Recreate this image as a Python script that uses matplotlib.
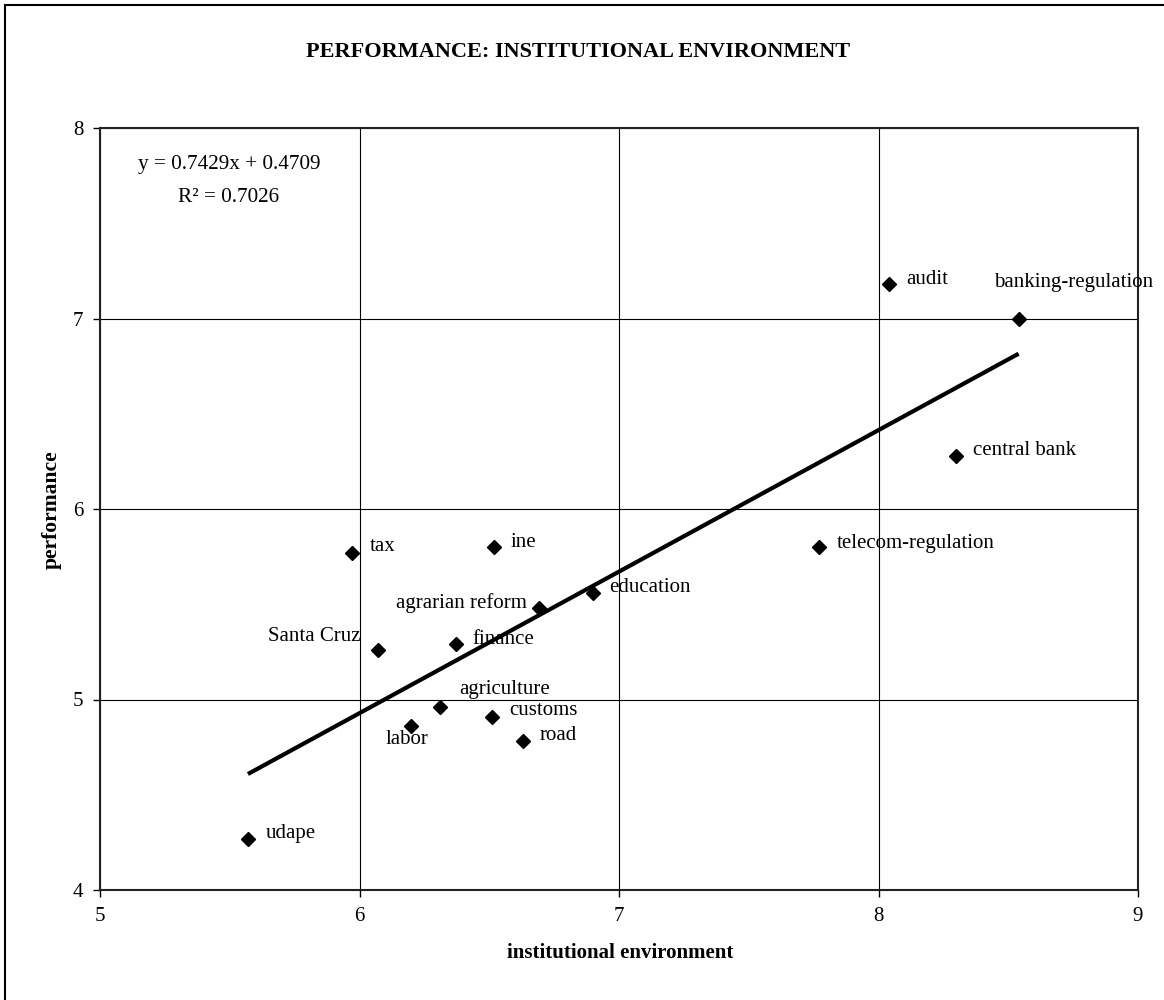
import matplotlib
matplotlib.use("Agg")
import matplotlib.pyplot as plt
from matplotlib.lines import Line2D
import numpy as np

plt.rcParams['font.family'] = ['Liberation Serif', 'DejaVu Serif']

# ---- data ----
names = ["udape", "tax", "ine", "agrarian reform", "education", "Santa Cruz",
         "finance", "agriculture", "customs", "labor", "road", "audit",
         "banking-regulation", "central bank", "telecom-regulation"]
inst_env = [5.57, 5.97, 6.52, 6.69, 6.90, 6.07, 6.37, 6.31, 6.51, 6.20, 6.63,
            8.04, 8.54, 8.30, 7.77]
performance = [4.27, 5.77, 5.80, 5.48, 5.56, 5.26, 5.29, 4.96, 4.91, 4.86, 4.78,
               7.18, 7.00, 6.28, 5.80]
trend_slope = 0.7429
trend_intercept = 0.4709
r_squared = 0.7026
x_ticks = [5, 6, 7, 8, 9]
y_ticks = [4, 5, 6, 7, 8]

# label offsets in pixels (dx, dy) and alignment
label_style = {
    "udape": (18, 5, 'left'),
    "tax": (18, 6, 'left'),
    "ine": (16, 5, 'left'),
    "agrarian reform": (-12, 5, 'right'),
    "education": (16, 5, 'left'),
    "Santa Cruz": (-17, 13, 'right'),
    "finance": (17, 5, 'left'),
    "agriculture": (19, 18, 'left'),
    "customs": (17, 6, 'left'),
    "labor": (-4, -13, 'center'),
    "road": (17, 6, 'left'),
    "audit": (17, 5, 'left'),
    "banking-regulation": (55, 36, 'center'),
    "central bank": (17, 5, 'left'),
    "telecom-regulation": (18, 4, 'left'),
}

W, H = 1164, 1000
fig = plt.figure(figsize=(W / 100, H / 100), dpi=100)

# outer border (left and top visible)
fig.add_artist(Line2D([5 / W, 5 / W], [0, 1 - 5 / H], color='black', lw=1.5,
                      transform=fig.transFigure))
fig.add_artist(Line2D([5 / W, 1], [1 - 5 / H, 1 - 5 / H], color='black', lw=1.5,
                      transform=fig.transFigure))

left, right, top, bottom = 100, 1138, 128, 890
ax = fig.add_axes([left / W, 1 - bottom / H, (right - left) / W, (bottom - top) / H])
ax.set_xlim(5, 9)
ax.set_ylim(4, 8)
ax.set_xticks(x_ticks)
ax.set_yticks(y_ticks)
ax.set_xticklabels([str(t) for t in x_ticks], fontsize=15)
ax.set_yticklabels([str(t) for t in y_ticks], fontsize=15)
ax.tick_params(direction='out', length=5, width=1, pad=7)
ax.grid(True, color='black', lw=0.8)
ax.set_axisbelow(True)
for s in ax.spines.values():
    s.set_linewidth(1.5)
    s.set_color('#222222')

# trend line
xs = np.array([min(inst_env), max(inst_env)])
ax.plot(xs, trend_slope * xs + trend_intercept, color='black', lw=3, zorder=3,
        solid_capstyle='butt')

# points
ax.plot(inst_env, performance, linestyle='none', marker='D', ms=7.5,
        color='black', zorder=4)

for n, x, y in zip(names, inst_env, performance):
    dx, dy, ha = label_style[n]
    ax.annotate(n, (x, y), xytext=(dx * 0.72, dy * 0.72), textcoords='offset points',
                ha=ha, va='center', fontsize=15, zorder=5)

# equation text
fig.text(229 / W, 1 - 165 / H, f"y = {trend_slope}x + {trend_intercept}",
         ha='center', va='center', fontsize=15.3)
fig.text(229 / W, 1 - 197 / H, f"R\u00b2 = {r_squared}",
         ha='center', va='center', fontsize=15.3)

fig.text(578 / W, 1 - 52 / H, "PERFORMANCE: INSTITUTIONAL ENVIRONMENT",
         ha='center', va='center', fontsize=16, fontweight='bold')
fig.text(52 / W, 1 - 510 / H, "performance", rotation=90,
         ha='center', va='center', fontsize=15.5, fontweight='bold')
fig.text(620 / W, 1 - 953 / H, "institutional environment",
         ha='center', va='center', fontsize=15, fontweight='bold')

fig.savefig("out.png", dpi=100)
